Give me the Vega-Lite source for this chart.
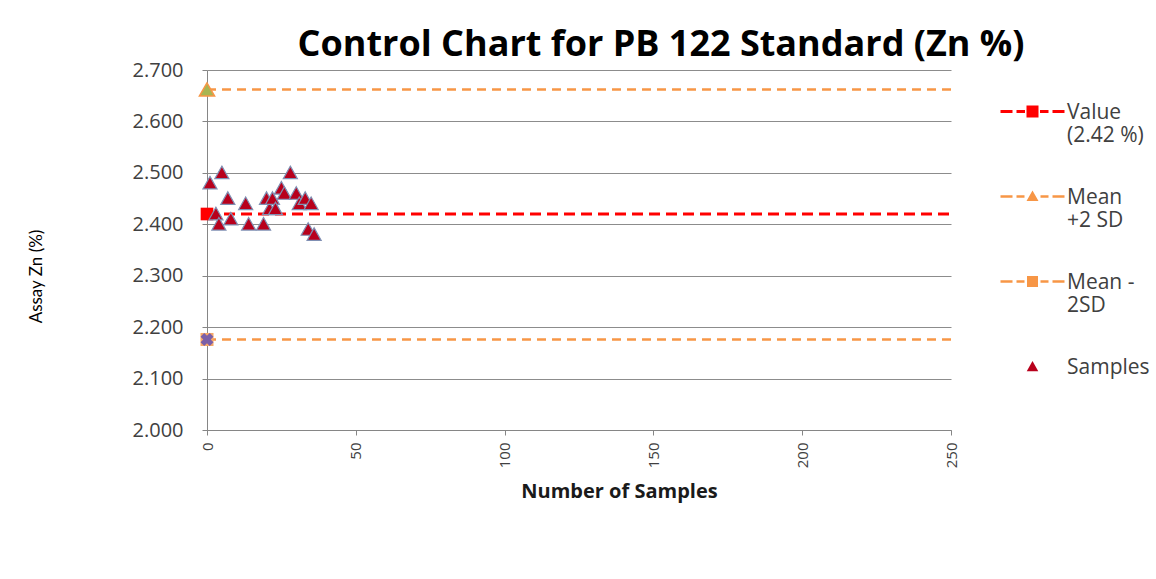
{
  "$schema": "https://vega.github.io/schema/vega-lite/v6.json",
  "width": 744,
  "height": 360,
  "autosize": {"type": "none"},
  "padding": {"left": 207, "top": 70, "right": 205, "bottom": 149},
  "background": "white",
  "config": {"view": {"stroke": null}, "font": "Open Sans"},
  "title": {
    "text": "Control Chart for PB 122 Standard (Zn %)",
    "font": "Open Sans",
    "fontSize": 36,
    "fontWeight": "bold",
    "color": "#000000",
    "anchor": "middle",
    "dx": 82,
    "offset": -4
  },
  "datasets": {
    "lines": [
      {"series": "Value (2.42 %)", "y": 2.42, "x0": 0, "x1": 250},
      {"series": "Mean +2 SD", "y": 2.662, "x0": 0, "x1": 250},
      {"series": "Mean - 2SD", "y": 2.176, "x0": 0, "x1": 250}
    ],
    "samples": [
      {"n": 1, "zn": 2.48, "series": "Samples"},
      {"n": 3, "zn": 2.42, "series": "Samples"},
      {"n": 4, "zn": 2.40, "series": "Samples"},
      {"n": 5, "zn": 2.50, "series": "Samples"},
      {"n": 7, "zn": 2.45, "series": "Samples"},
      {"n": 8, "zn": 2.41, "series": "Samples"},
      {"n": 13, "zn": 2.44, "series": "Samples"},
      {"n": 14, "zn": 2.40, "series": "Samples"},
      {"n": 19, "zn": 2.40, "series": "Samples"},
      {"n": 20, "zn": 2.45, "series": "Samples"},
      {"n": 21, "zn": 2.43, "series": "Samples"},
      {"n": 22, "zn": 2.45, "series": "Samples"},
      {"n": 23, "zn": 2.43, "series": "Samples"},
      {"n": 25, "zn": 2.47, "series": "Samples"},
      {"n": 26, "zn": 2.46, "series": "Samples"},
      {"n": 28, "zn": 2.50, "series": "Samples"},
      {"n": 30, "zn": 2.46, "series": "Samples"},
      {"n": 31, "zn": 2.44, "series": "Samples"},
      {"n": 33, "zn": 2.45, "series": "Samples"},
      {"n": 34, "zn": 2.39, "series": "Samples"},
      {"n": 35, "zn": 2.44, "series": "Samples"},
      {"n": 36, "zn": 2.38, "series": "Samples"}
    ]
  },
  "encoding": {
    "x": {
      "type": "quantitative",
      "scale": {"domain": [0, 250], "nice": false, "zero": false},
      "axis": {
        "title": "Number of Samples",
        "titleFont": "Open Sans",
        "titleFontSize": 20,
        "titleFontWeight": "bold",
        "titleColor": "#1a1a1a",
        "titleX": 412,
        "titleAlign": "center",
        "titlePadding": 14,
        "values": [0, 50, 100, 150, 200, 250],
        "labelAngle": -90,
        "labelFont": "Open Sans",
        "labelFontSize": 15,
        "labelColor": "#404040",
        "labelPadding": 7,
        "tickSize": 5,
        "tickColor": "#868686",
        "domainColor": "#868686",
        "grid": false
      }
    },
    "y": {
      "type": "quantitative",
      "scale": {"domain": [2.0, 2.7], "nice": false, "zero": false},
      "axis": {
        "title": "Assay Zn (%)",
        "titleFont": "Lato",
        "titleFontSize": 17,
        "titleFontWeight": "normal",
        "titleColor": "#000000",
        "titleX": -162,
        "titleY": 206,
        "values": [2.0, 2.1, 2.2, 2.3, 2.4, 2.5, 2.6, 2.7],
        "format": ".3f",
        "labelFont": "Open Sans",
        "labelFontSize": 20,
        "labelColor": "#404040",
        "labelPadding": 19,
        "tickSize": 5,
        "tickColor": "#868686",
        "domainColor": "#868686",
        "grid": true,
        "gridColor": "#8c8c8c",
        "gridWidth": 1
      }
    }
  },
  "layer": [
    {
      "data": {"name": "lines"},
      "transform": [{"filter": "datum.series == 'Value (2.42 %)'"}],
      "mark": {"type": "rule", "color": "#ff0000", "strokeWidth": 3.2, "strokeDash": [11, 6]},
      "encoding": {"x": {"field": "x0"}, "x2": {"field": "x1"}, "y": {"field": "y"}}
    },
    {
      "data": {"name": "lines"},
      "transform": [{"filter": "datum.series != 'Value (2.42 %)'"}],
      "mark": {"type": "rule", "color": "#f79646", "strokeWidth": 2.5, "strokeDash": [9, 6]},
      "encoding": {"x": {"field": "x0"}, "x2": {"field": "x1"}, "y": {"field": "y"}}
    },
    {
      "data": {"name": "lines"},
      "transform": [{"filter": "datum.series == 'Value (2.42 %)'"}],
      "mark": {"type": "point", "shape": "square", "filled": true, "color": "#ff0000", "size": 160, "opacity": 1},
      "encoding": {"x": {"field": "x0"}, "y": {"field": "y"}}
    },
    {
      "data": {"name": "lines"},
      "transform": [{"filter": "datum.series == 'Mean +2 SD'"}],
      "mark": {"type": "point", "shape": "triangle-up", "filled": true, "fill": "#a8b552", "stroke": "#f79646", "strokeWidth": 1.5, "size": 230, "opacity": 1},
      "encoding": {"x": {"field": "x0"}, "y": {"field": "y"}}
    },
    {
      "data": {"name": "lines"},
      "transform": [{"filter": "datum.series == 'Mean - 2SD'"}],
      "mark": {"type": "point", "shape": "square", "filled": true, "color": "#f7a868", "size": 170, "opacity": 1},
      "encoding": {"x": {"field": "x0"}, "y": {"field": "y"}}
    },
    {
      "data": {"name": "lines"},
      "transform": [{"filter": "datum.series == 'Mean - 2SD'"}],
      "mark": {"type": "point", "shape": "cross", "angle": 45, "filled": true, "color": "#7a5fa8", "size": 170, "opacity": 1},
      "encoding": {"x": {"field": "x0"}, "y": {"field": "y"}}
    },
    {
      "data": {"name": "samples"},
      "mark": {"type": "point", "filled": true, "stroke": "#8090b4", "strokeWidth": 1.2, "size": 150, "opacity": 1, "yOffset": -12.25},
      "encoding": {
        "x": {"field": "n"},
        "y": {"field": "zn"},
        "color": {
          "field": "series",
          "type": "nominal",
          "scale": {
            "domain": ["Value (2.42 %)", "Mean +2 SD", "Mean - 2SD", "Samples"],
            "range": ["#ff0000", "#f79646", "#f79646", "#b8001c"]
          },
          "legend": {
            "title": null,
            "orient": "none",
            "legendX": 815,
            "legendY": 21,
            "symbolSize": 100,
            "symbolStrokeWidth": 0,
            "labelFont": "Open Sans",
            "labelFontSize": 21,
            "labelColor": "#404040",
            "labelOffset": 24,
            "labelBaseline": "top",
            "labelLimit": 200,
            "rowPadding": 30,
            "labelExpr": "datum.label == 'Value (2.42 %)' ? ['Value', '(2.42 %)'] : datum.label == 'Mean +2 SD' ? ['Mean', '+2 SD'] : datum.label == 'Mean - 2SD' ? ['Mean -', '2SD'] : datum.label"
          }
        },
        "shape": {
          "field": "series",
          "type": "nominal",
          "scale": {
            "domain": ["Value (2.42 %)", "Mean +2 SD", "Mean - 2SD", "Samples"],
            "range": [
              "M-6.4,1.68H-4V2.32H-6.4Z M-3.2,1.68H-1.5V2.32H-3.2Z M-1.2,0.8H1.2V3.2H-1.2Z M1.5,1.68H3.2V2.32H1.5Z M4,1.68H6.4V2.32H4Z",
              "M-6.4,1.75H-4V2.25H-6.4Z M-3.2,1.75H-1.6V2.25H-3.2Z M0,0.8L1.2,2.9L-1.2,2.9Z M1.6,1.75H3.2V2.25H1.6Z M4,1.75H6.4V2.25H4Z",
              "M-6.4,1.75H-4V2.25H-6.4Z M-3.2,1.75H-1.6V2.25H-3.2Z M-1.1,0.9H1.1V3.1H-1.1Z M1.6,1.75H3.2V2.25H1.6Z M4,1.75H6.4V2.25H4Z",
              "M0,0.9L1.15,2.95L-1.15,2.95Z"
            ]
          }
        }
      }
    }
  ]
}
